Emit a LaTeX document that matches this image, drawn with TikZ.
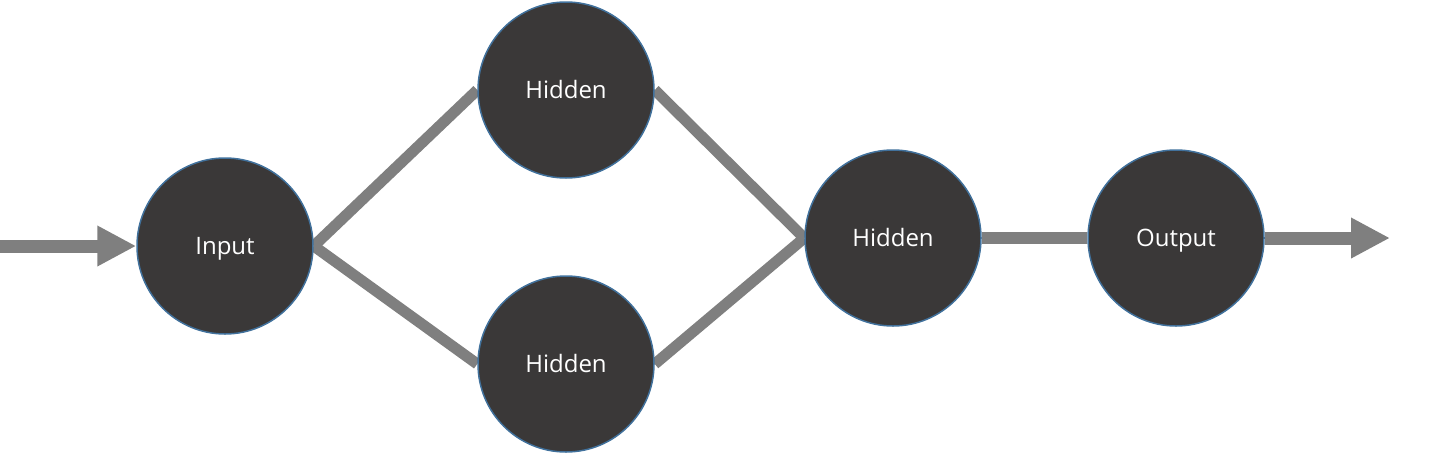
\documentclass[tikz,border=0pt]{standalone}
\usepackage{fontspec}
\setmainfont{Open Sans}
\usetikzlibrary{arrows.meta,backgrounds}
\definecolor{nodefill}{HTML}{3A3838}
\definecolor{nodeedge}{HTML}{41719C}
\definecolor{linkgray}{HTML}{7F7F7F}
\begin{document}
\begin{tikzpicture}[x=1pt,y=1pt,
  neuron/.style={circle, fill=nodefill, draw=nodeedge, line width=1.5pt, minimum size=176pt, inner sep=0pt, text=white, text height=17pt, text depth=0pt, font=\fontsize{24}{28}\selectfont},
  link/.style={draw=linkgray, line width=11pt},
  flow/.style={draw=linkgray, line width=13pt, -{Triangle[length=39pt,width=38pt]}}]
\useasboundingbox (0,0) rectangle (1431,-453);
\node[neuron] (in) at (225,-246) {Input};
\node[neuron] (h1) at (566,-90) {Hidden};
\node[neuron] (h2) at (566,-364) {Hidden};
\node[neuron] (h3) at (893,-238) {Hidden};
\node[neuron] (out) at (1176,-238) {Output};
\coordinate (src) at (0,-246);
\coordinate (dst) at (1390,-238);
\begin{scope}[on background layer]
\draw[link] (in.east) -- (h1.west);
\draw[link] (in.east) -- (h2.west);
\draw[link] (h1.east) -- (h3.west);
\draw[link] (h2.east) -- (h3.west);
\draw[link, line width=12pt] (h3.east) -- (out.west);
\end{scope}
\draw[flow] (src) -- (in.west);
\draw[flow] (out.east) -- (dst);
\end{tikzpicture}
\end{document}
